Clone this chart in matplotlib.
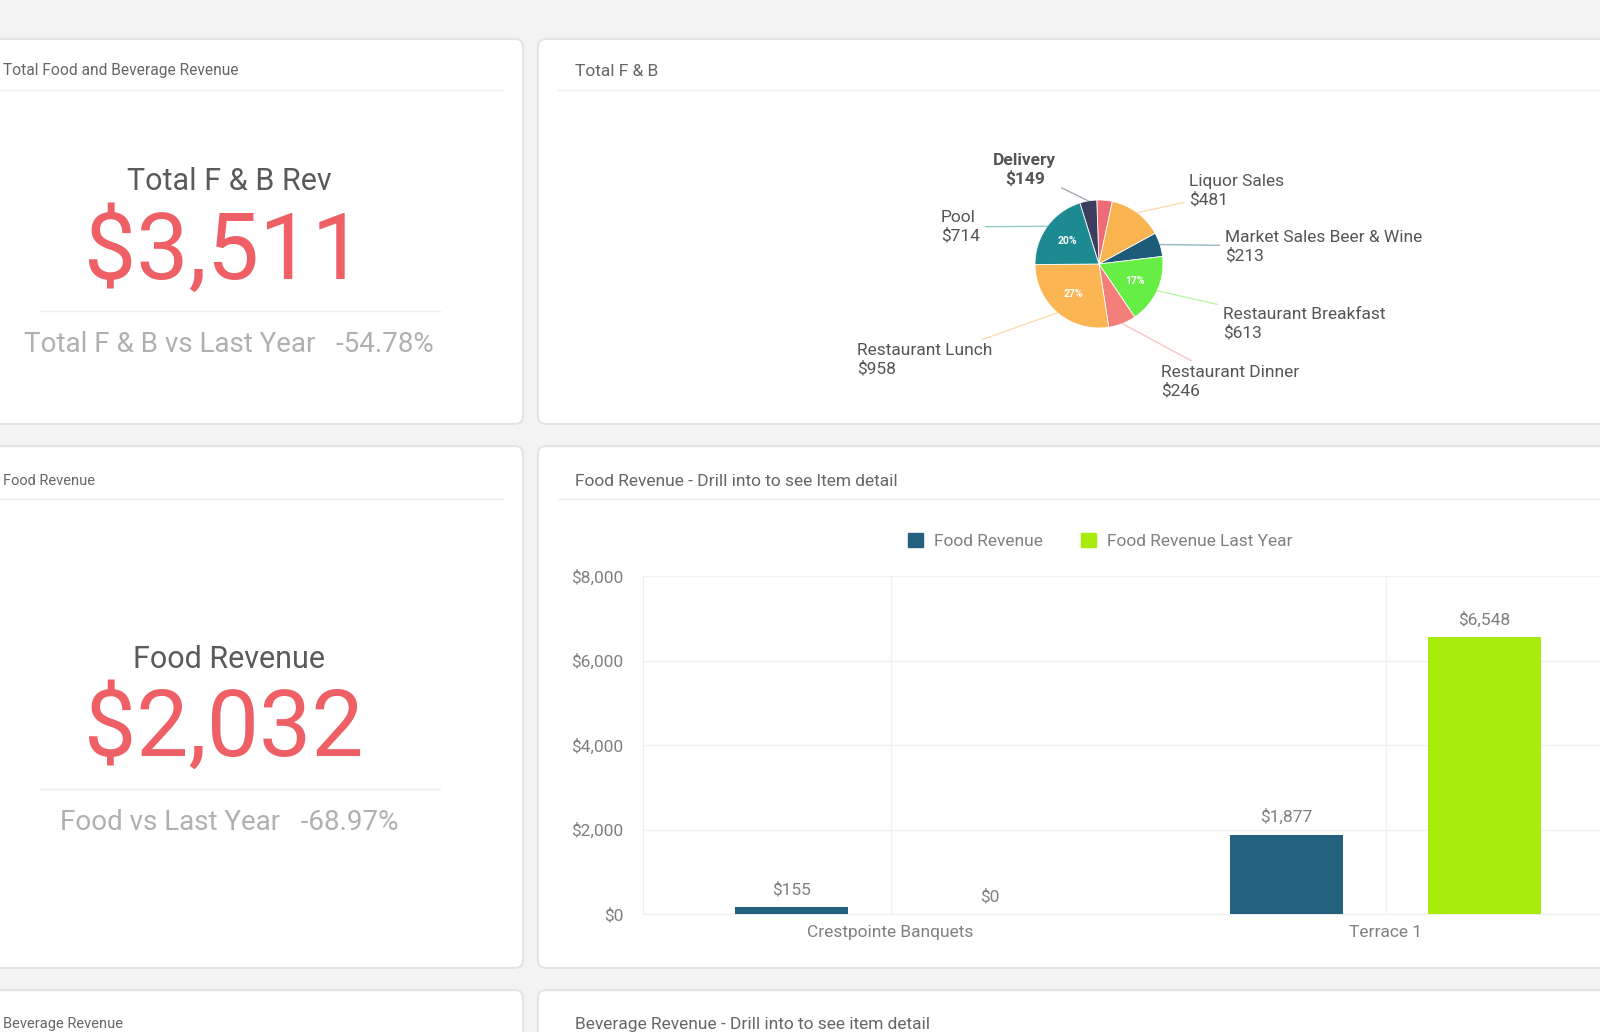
import matplotlib.pyplot as plt
from matplotlib.patches import FancyBboxPatch, Patch
import numpy as np

plt.rcParams['font.family'] = ['Roboto', 'DejaVu Sans']

# KPI cards
kpi_titles = ["Total F & B Rev", "Food Revenue"]
kpi_values = [3511, 2032]
kpi_compare_labels = ["Total F & B vs Last Year", "Food vs Last Year"]
kpi_compare_pct = [-54.78, -68.97]

# Pie: Total F & B split (clockwise from top)
pie_labels = ["Banquets", "Liquor Sales", "Market Sales Beer & Wine", "Restaurant Breakfast",
              "Restaurant Dinner", "Restaurant Lunch", "Pool", "Delivery"]
pie_values = [137, 481, 213, 613, 246, 958, 714, 149]
pie_colors = ["#ef6b78", "#f9b34f", "#1d5c78", "#66ee44", "#f47f7a", "#fbb552", "#1c8a90", "#3c3c5e"]

# Bar chart: food revenue by outlet
bar_categories = ["Crestpointe Banquets", "Terrace 1"]
food_rev = [155, 1877]
food_rev_last_year = [0, 6548]
y_ticks = [0, 2000, 4000, 6000, 8000]

W, H = 1600, 1032
SMALL = 12.5
fig = plt.figure(figsize=(16, 10.32), dpi=100)
fig.patch.set_facecolor("#f3f3f3")

# background axes in pixel coordinates for panels and KPI text
bg = fig.add_axes([0, 0, 1, 1])
bg.set_xlim(0, W)
bg.set_ylim(H, 0)
bg.axis("off")

panels = [(-20, 39, 543, 385), (538, 39, 1100, 385),
          (-20, 446, 543, 522), (538, 446, 1100, 522),
          (-20, 990, 543, 100), (538, 990, 1100, 100)]
for x, y, w, h in panels:
    bg.add_patch(FancyBboxPatch((x, y), w, h, boxstyle="round,pad=0,rounding_size=8",
                                fc="white", ec="#e4e4e4", lw=1.5))

# panel titles: (text, x, y, fontsize) - left column titles sit at the page edge
titles = [("Total Food and Beverage Revenue", 3, 71, 11.2),
          ("Total F & B", 575, 71, SMALL),
          ("Food Revenue", 3, 481, 10.5),
          ("Food Revenue - Drill into to see Item detail", 575, 481, SMALL),
          ("Beverage Revenue", 3, 1024, 10.5),
          ("Beverage Revenue - Drill into to see item detail", 575, 1024, SMALL)]
for text, x, y, fs in titles:
    bg.text(x, y, text, ha="left", va="center", fontsize=fs, color="#666666")

# title separators
for y, x0, x1 in [(90, 0, 503), (90, 558, 1600), (499, 0, 503), (499, 558, 1600)]:
    bg.plot([x0, x1], [y, y], color="#efefef", lw=1)

# KPI cards
kpi_y = [(182, 253, 311, 345), (659, 730, 789, 823)]
for i, (ty, vy, sy, cy) in enumerate(kpi_y):
    bg.text(229, ty, kpi_titles[i], ha="center", va="center", fontsize=22, color="#5a5a5a")
    bg.text(224, vy, f"${kpi_values[i]:,.0f}", ha="center", va="center", fontsize=67,
            color="#ef5f66")
    bg.plot([40, 440], [sy, sy], color="#eeeeee", lw=1)
    bg.text(229, cy, f"{kpi_compare_labels[i]}   {kpi_compare_pct[i]:.2f}%", ha="center",
            va="center", fontsize=20, color="#b0b0b0")

# Pie chart
cx, cy, r = 1099, 264, 64
span = 2.5 * r
pie_ax = fig.add_axes([(cx - span / 2) / W, 1 - (cy + span / 2) / H, span / W, span / H])
pie_ax.set_xlim(-1.25, 1.25)
pie_ax.set_ylim(-1.25, 1.25)
pie_ax.set_aspect("equal")
pie_ax.axis("off")
wedges, _, autotexts = pie_ax.pie(
    pie_values, colors=pie_colors, startangle=92, counterclock=False, radius=1,
    autopct=lambda p: f"{p:.0f}%" if p >= 15 else "", pctdistance=0.62,
    wedgeprops=dict(edgecolor="white", linewidth=0.6),
    textprops=dict(color="white", fontsize=7.5, fontweight="bold"))

# label text positions (pie units) and alignment
label_pos = {"Delivery": (-1.16, 1.47, "center"),
             "Liquor Sales": (1.41, 1.14, "left"),
             "Market Sales Beer & Wine": (1.97, 0.27, "left"),
             "Restaurant Breakfast": (1.94, -0.94, "left"),
             "Restaurant Dinner": (0.97, -1.84, "left"),
             "Restaurant Lunch": (-3.78, -1.5, "left"),
             "Pool": (-2.47, 0.58, "left")}
for w, name, val, col in zip(wedges, pie_labels, pie_values, pie_colors):
    if name not in label_pos:
        continue
    mid = np.deg2rad((w.theta1 + w.theta2) / 2)
    tx, ty, ha = label_pos[name]
    weight = "bold" if name == "Delivery" else "normal"
    pie_ax.annotate(f"{name}\n${val:,.0f}", xy=(np.cos(mid), np.sin(mid)), xytext=(tx, ty),
                    ha=ha, va="center", fontsize=SMALL, color="#555555", linespacing=1.25,
                    fontweight=weight, annotation_clip=False,
                    arrowprops=dict(arrowstyle="-", color=col, alpha=0.45, lw=1,
                                    shrinkA=2, shrinkB=0))

# Bar chart
ax = fig.add_axes([643 / W, 1 - 914 / H, 990 / W, (914 - 576) / H])
x = np.arange(len(bar_categories))
bw = 0.23
b1 = ax.bar(x - 0.2, food_rev, bw, color="#24617f", label="Food Revenue", zorder=3)
b2 = ax.bar(x + 0.2, food_rev_last_year, bw, color="#a8ec0c", label="Food Revenue Last Year", zorder=3)
for bars, vals in [(b1, food_rev), (b2, food_rev_last_year)]:
    ax.bar_label(bars, labels=[f"${v:,.0f}" for v in vals], padding=7, fontsize=SMALL,
                 color="#808080")
ax.set_xlim(-0.5, len(bar_categories) - 0.5)
ax.set_ylim(0, 8000)
ax.set_yticks(y_ticks)
ax.set_yticklabels([f"${v:,.0f}" for v in y_ticks])
ax.set_xticks(x)
ax.set_xticklabels(bar_categories)
ax.tick_params(axis="both", length=0, labelsize=SMALL, labelcolor="#808080", pad=14)
ax.tick_params(axis="x", pad=8)
ax.grid(axis="y", color="#f1f1f1", lw=1, zorder=0)
for xc in x:
    ax.axvline(xc, color="#f1f1f1", lw=1, zorder=0)
for s in ["top", "right"]:
    ax.spines[s].set_visible(False)
for s in ["left", "bottom"]:
    ax.spines[s].set_color("#eeeeee")

handles = [Patch(color="#24617f", label="Food Revenue"),
           Patch(color="#a8ec0c", label="Food Revenue Last Year")]
fig.legend(handles=handles, loc="center", bbox_to_anchor=(1100 / W, 1 - 541 / H), ncol=2,
           frameon=False, fontsize=SMALL, labelcolor="#808080", handlelength=0.9,
           handleheight=0.9, handletextpad=0.6, columnspacing=2.2)

fig.savefig("out.png", dpi=100, facecolor=fig.get_facecolor())
